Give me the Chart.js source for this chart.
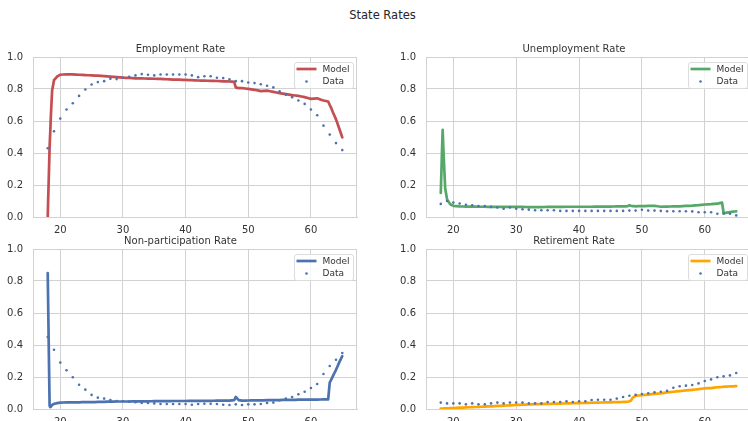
<!DOCTYPE html>
<html>
<head>
<meta charset="utf-8">
<script src="https://cdn.jsdelivr.net/npm/chart.js@4.4.1/dist/chart.umd.min.js"></script>
<style>
  html, body { margin: 0; padding: 0; width: 748px; height: 421px; overflow: hidden; background: #fff; }
  canvas.panel { position: absolute; }
  #suptitle { position: absolute; left: 0; top: 8px; width: 765px; text-align: center;
              font: 11.5px "DejaVu Sans", sans-serif; color: #262626; }
</style>
</head>
<body>
<div id="suptitle">State Rates</div>
<canvas id="pEmp"    class="panel" width="361" height="197" style="left:0px;top:40px"></canvas>
<canvas id="pUnemp"  class="panel" width="362" height="197" style="left:393px;top:40px"></canvas>
<canvas id="pNonpar" class="panel" width="361" height="197" style="left:0px;top:232px"></canvas>
<canvas id="pRetire" class="panel" width="362" height="197" style="left:393px;top:232px"></canvas>
<script>
// Observed ages (one point per year of age)
const ages = [18, 19, 20, 21, 22, 23, 24, 25, 26, 27, 28, 29, 30, 31, 32, 33, 34, 35, 36, 37, 38, 39, 40, 41,
              42, 43, 44, 45, 46, 47, 48, 49, 50, 51, 52, 53, 54, 55, 56, 57, 58, 59, 60, 61, 62, 63, 64, 65];

// Ages at which the simulated (model) rates are reported
const modelAges = [18, 18.1, 18.2, 18.3, 18.4, 18.5, 18.7, 19, 19.5, 20, 21, 22, 23, 24, 25, 26, 27, 28, 29, 30,
                   31, 32, 33, 34, 35, 36, 37, 38, 39, 40, 41, 42, 43, 44, 45, 46, 47, 47.75, 48, 48.25, 48.5, 49,
                   50, 51, 52, 53, 54, 55, 56, 57, 58, 59, 60, 61, 62, 62.75, 63, 63.25, 63.5, 64, 64.5, 65];

// Model rates
const employmentModel = [0.00, 0.15, 0.29, 0.44, 0.53, 0.63, 0.79, 0.855, 0.878, 0.889, 0.892, 0.891, 0.889, 0.887,
  0.885, 0.883, 0.880, 0.877, 0.874, 0.871, 0.869, 0.867, 0.866, 0.865, 0.864, 0.863, 0.861, 0.859, 0.858, 0.857,
  0.855, 0.853, 0.852, 0.851, 0.850, 0.848, 0.847, 0.845, 0.810, 0.807, 0.806, 0.805, 0.801, 0.795, 0.787, 0.790,
  0.782, 0.774, 0.768, 0.762, 0.757, 0.749, 0.738, 0.742, 0.728, 0.722, 0.700, 0.680, 0.655, 0.610, 0.555, 0.498];
const unemploymentModel = [0.15, 0.28, 0.42, 0.545, 0.44, 0.35, 0.18, 0.11, 0.08, 0.070, 0.066, 0.065, 0.065, 0.064,
  0.064, 0.063, 0.063, 0.063, 0.063, 0.063, 0.063, 0.062, 0.062, 0.062, 0.063, 0.063, 0.063, 0.064, 0.064, 0.064,
  0.064, 0.064, 0.065, 0.065, 0.065, 0.066, 0.066, 0.068, 0.073, 0.070, 0.068, 0.067, 0.068, 0.069, 0.070, 0.064,
  0.065, 0.066, 0.067, 0.069, 0.071, 0.074, 0.078, 0.080, 0.083, 0.090, 0.022, 0.025, 0.027, 0.031, 0.034, 0.035];
const nonparticipationModel = [0.85, 0.57, 0.29, 0.02, 0.012, 0.015, 0.025, 0.032, 0.037, 0.040, 0.041, 0.042, 0.042,
  0.043, 0.043, 0.044, 0.045, 0.046, 0.047, 0.047, 0.047, 0.048, 0.048, 0.048, 0.049, 0.049, 0.049, 0.050, 0.050,
  0.050, 0.051, 0.051, 0.051, 0.051, 0.052, 0.052, 0.052, 0.055, 0.075, 0.065, 0.055, 0.052, 0.053, 0.054, 0.054,
  0.055, 0.056, 0.056, 0.057, 0.057, 0.058, 0.058, 0.059, 0.059, 0.060, 0.060, 0.165, 0.185, 0.205, 0.245, 0.290, 0.330];
const retirementModel = [0.003, 0.003, 0.003, 0.003, 0.003, 0.004, 0.004, 0.004, 0.005, 0.006, 0.008, 0.010, 0.012,
  0.013, 0.015, 0.017, 0.019, 0.021, 0.023, 0.025, 0.027, 0.028, 0.030, 0.031, 0.032, 0.033, 0.034, 0.035, 0.036,
  0.037, 0.038, 0.039, 0.040, 0.041, 0.042, 0.043, 0.044, 0.046, 0.048, 0.052, 0.070, 0.083, 0.086, 0.090, 0.095,
  0.098, 0.103, 0.108, 0.112, 0.116, 0.120, 0.124, 0.129, 0.131, 0.136, 0.138, 0.139, 0.140, 0.140, 0.141, 0.142, 0.143];

// Observed rates
const employmentData = [0.430, 0.536, 0.615, 0.672, 0.711, 0.757, 0.797, 0.828, 0.843, 0.849, 0.864, 0.862, 0.872,
  0.877, 0.885, 0.893, 0.889, 0.885, 0.891, 0.891, 0.891, 0.891, 0.891, 0.885, 0.874, 0.880, 0.880, 0.870, 0.868,
  0.860, 0.849, 0.849, 0.841, 0.837, 0.830, 0.820, 0.810, 0.785, 0.764, 0.749, 0.728, 0.707, 0.672, 0.636, 0.571,
  0.515, 0.462, 0.418];
const unemploymentData = [0.082, 0.100, 0.090, 0.084, 0.077, 0.073, 0.069, 0.069, 0.063, 0.059, 0.052, 0.059, 0.052,
  0.048, 0.046, 0.042, 0.042, 0.042, 0.042, 0.038, 0.038, 0.038, 0.038, 0.038, 0.038, 0.038, 0.038, 0.038, 0.038,
  0.038, 0.040, 0.040, 0.045, 0.040, 0.040, 0.038, 0.036, 0.036, 0.036, 0.036, 0.035, 0.030, 0.030, 0.030, 0.020,
  0.022, 0.020, 0.010];
const nonparticipationData = [0.450, 0.370, 0.290, 0.242, 0.198, 0.152, 0.121, 0.088, 0.071, 0.065, 0.056, 0.050,
  0.048, 0.046, 0.042, 0.038, 0.038, 0.035, 0.031, 0.031, 0.031, 0.031, 0.031, 0.027, 0.031, 0.033, 0.033, 0.031,
  0.027, 0.025, 0.029, 0.025, 0.029, 0.029, 0.031, 0.038, 0.040, 0.055, 0.065, 0.075, 0.092, 0.108, 0.131, 0.156,
  0.219, 0.269, 0.308, 0.350];
const retirementData = [0.040, 0.035, 0.035, 0.035, 0.029, 0.035, 0.029, 0.029, 0.035, 0.040, 0.035, 0.040, 0.040,
  0.040, 0.035, 0.035, 0.035, 0.044, 0.044, 0.044, 0.048, 0.044, 0.048, 0.048, 0.056, 0.058, 0.058, 0.058, 0.065,
  0.075, 0.083, 0.088, 0.094, 0.098, 0.104, 0.108, 0.113, 0.133, 0.142, 0.146, 0.150, 0.160, 0.175, 0.185, 0.198,
  0.204, 0.210, 0.225];

// Axis ticks
const xTicks = [20, 30, 40, 50, 60];
const yTicks = [0.0, 0.2, 0.4, 0.6, 0.8, 1.0];

const GRID = '#d2d2d2';
const TEXT = '#333333';
const DOT = '#4C72B0';
Chart.defaults.font.family = '"DejaVu Sans", sans-serif';
Chart.defaults.color = TEXT;

const toPoints = (xs, ys) => xs.map((x, i) => ({ x: x, y: ys[i] }));

// Right-hand edge of the axes frame (left/bottom/top come from the scales and grid)
const framePlugin = {
  id: 'axesFrame',
  beforeDatasetsDraw(chart) {
    const { ctx, chartArea: a } = chart;
    ctx.save();
    ctx.strokeStyle = GRID;
    ctx.lineWidth = 1;
    const xr = Math.round(a.right) - 0.5;
    ctx.beginPath();
    ctx.moveTo(xr, a.top);
    ctx.lineTo(xr, a.bottom);
    ctx.stroke();
    ctx.restore();
  }
};

// Framed legend in the upper-right corner of the plot area
const cornerLegend = {
  id: 'cornerLegend',
  afterDraw(chart) {
    const { ctx, chartArea: a } = chart;
    const model = chart.data.datasets[0];
    const obs = chart.data.datasets[1];
    const w = 59, h = 26;
    const x0 = Math.round(a.right - 4 - w), y0 = Math.round(a.top + 5);
    ctx.save();
    ctx.fillStyle = 'rgba(255,255,255,0.8)';
    ctx.strokeStyle = '#dcdcdc';
    ctx.lineWidth = 1;
    ctx.beginPath();
    ctx.roundRect(x0 + 0.5, y0 + 0.5, w, h, 2.5);
    ctx.fill();
    ctx.stroke();

    ctx.strokeStyle = model.borderColor;
    ctx.lineWidth = model.borderWidth;
    ctx.beginPath();
    ctx.moveTo(x0 + 2.5, y0 + 7);
    ctx.lineTo(x0 + 22.5, y0 + 7);
    ctx.stroke();

    ctx.fillStyle = obs.backgroundColor;
    ctx.beginPath();
    ctx.arc(x0 + 12.5, y0 + 19.5, obs.pointRadius, 0, Math.PI * 2);
    ctx.fill();

    ctx.fillStyle = TEXT;
    ctx.font = '9px "DejaVu Sans", sans-serif';
    ctx.textBaseline = 'middle';
    ctx.textAlign = 'left';
    ctx.fillText(model.label, x0 + 28.5, y0 + 7.5);
    ctx.fillText(obs.label, x0 + 28.5, y0 + 19.5);
    ctx.restore();
  }
};

function makePanel(id, title, color, modelVals, dataVals) {
  return new Chart(document.getElementById(id), {
    type: 'scatter',
    data: {
      datasets: [
        {
          label: 'Model',
          data: toPoints(modelAges, modelVals),
          showLine: true,
          borderColor: color,
          backgroundColor: color,
          borderWidth: 2.7,
          borderJoinStyle: 'round',
          borderCapStyle: 'round',
          pointRadius: 0,
          pointHoverRadius: 0,
          // a tiny tension keeps every vertex (no per-pixel collapsing of steep runs)
          tension: 0.0001,
          order: 2
        },
        {
          label: 'Data',
          data: toPoints(ages, dataVals),
          showLine: false,
          backgroundColor: DOT,
          borderWidth: 0,
          pointRadius: 1.3,
          order: 1
        }
      ]
    },
    options: {
      responsive: false,
      animation: false,
      events: [],
      layout: { padding: 0 },
      plugins: {
        legend: { display: false },
        tooltip: { enabled: false },
        title: {
          display: true,
          text: title,
          color: TEXT,
          font: { size: 10, weight: 'normal' },
          padding: { top: 3, bottom: 2 }
        }
      },
      scales: {
        x: {
          type: 'linear',
          min: 15.65,
          max: 67.35,
          afterBuildTicks(s) { s.ticks = xTicks.map(v => ({ value: v })); },
          afterFit(s) { s.height = 20; },
          grid: { color: GRID, lineWidth: 1, drawTicks: false },
          border: { color: GRID, width: 1 },
          ticks: { padding: 7, font: { size: 10 }, color: TEXT, maxRotation: 0,
                   callback: v => String(v) }
        },
        y: {
          min: 0,
          max: 1,
          afterBuildTicks(s) { s.ticks = yTicks.map(v => ({ value: v })); },
          afterFit(s) { s.width = 33; },
          grid: { color: GRID, lineWidth: 1, drawTicks: false },
          border: { color: GRID, width: 1 },
          ticks: { padding: 10, font: { size: 10 }, color: TEXT,
                   callback: v => Number(v).toFixed(1) }
        }
      }
    },
    plugins: [framePlugin, cornerLegend]
  });
}

makePanel('pEmp', 'Employment Rate', '#C44E52', employmentModel, employmentData);
makePanel('pUnemp', 'Unemployment Rate', '#55A868', unemploymentModel, unemploymentData);
makePanel('pNonpar', 'Non-participation Rate', '#4C72B0', nonparticipationModel, nonparticipationData);
makePanel('pRetire', 'Retirement Rate', '#FFA500', retirementModel, retirementData);
</script>
</body>
</html>
